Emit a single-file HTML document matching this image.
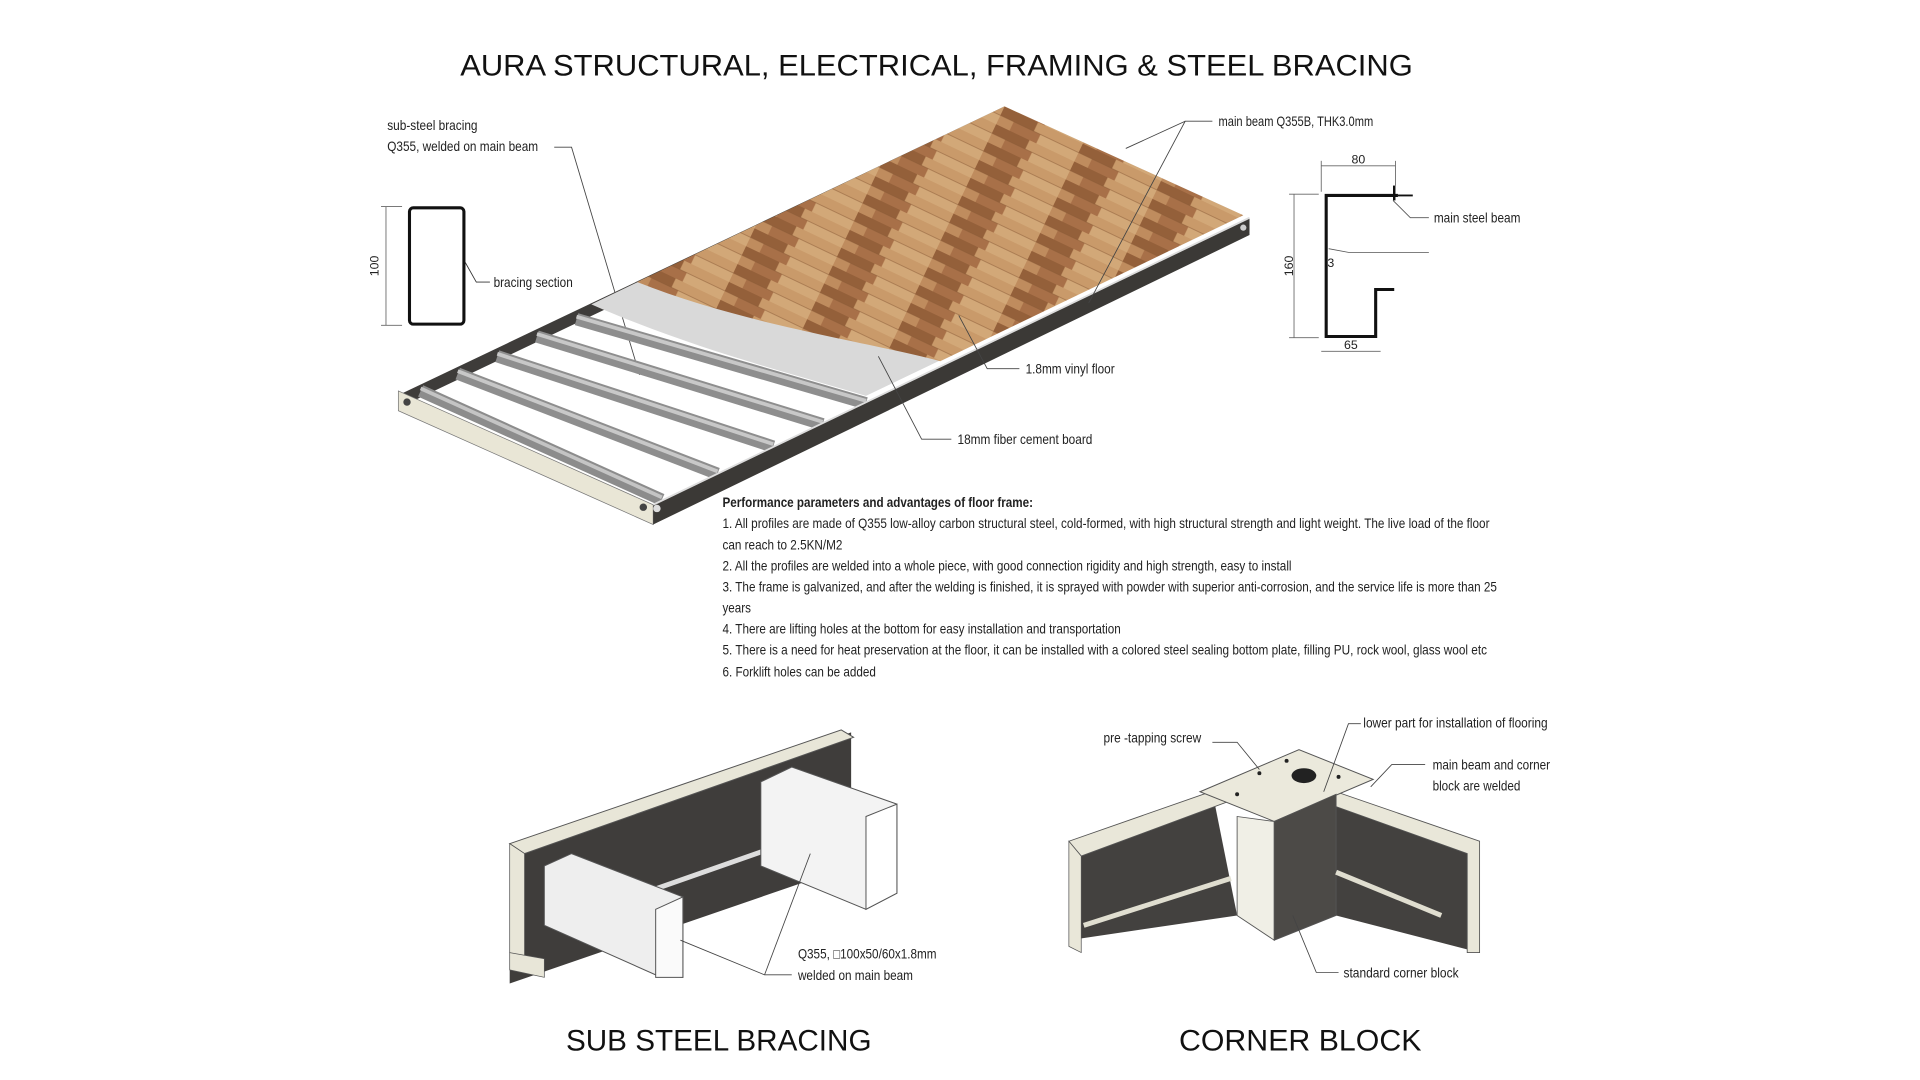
<!DOCTYPE html>
<html><head><meta charset="utf-8"><style>
html,body{margin:0;padding:0;background:#fff}
svg{display:block}
.t{font-family:"Liberation Sans Narrow","Liberation Sans",sans-serif;fill:#222}
.ti{font-family:"Liberation Sans",sans-serif;fill:#111}
</style></head><body>
<svg width="1920" height="1080" viewBox="0 0 1552 873" preserveAspectRatio="none" xmlns="http://www.w3.org/2000/svg">
<defs>
<pattern id="wood" width="70" height="16" patternUnits="userSpaceOnUse" patternTransform="rotate(25.5)">
<rect width="70" height="16" fill="#bf8c5e"/>
<rect x="0" y="0" width="30" height="8" fill="#94603a"/>
<rect x="30" y="0" width="40" height="8" fill="#c99a6a"/>
<rect x="12" y="8" width="24" height="8" fill="#a87048"/>
<rect x="36" y="8" width="34" height="8" fill="#d2a878"/>
<line x1="0" y1="8" x2="70" y2="8" stroke="#8a5a36" stroke-width="0.4"/>
</pattern>
</defs>
<rect width="1552" height="873" fill="#fff"/>
<text class="ti" x="757" y="61" font-size="24" text-anchor="middle" textLength="770" lengthAdjust="spacingAndGlyphs">AURA STRUCTURAL, ELECTRICAL, FRAMING &amp; STEEL BRACING</text>

<!-- bracing section -->
<rect x="331" y="168" width="44" height="94" rx="3" fill="none" stroke="#111" stroke-width="2.5"/>
<line x1="308" y1="167" x2="325" y2="167" stroke="#666" stroke-width="0.7"/>
<line x1="308" y1="263" x2="325" y2="263" stroke="#666" stroke-width="0.7"/>
<line x1="312" y1="167" x2="312" y2="263" stroke="#666" stroke-width="0.7"/>
<text class="t" x="306" y="215" font-size="10" transform="rotate(-90 306 215)" text-anchor="middle">100</text>
<polyline points="376,212 385,228 396,228" fill="none" stroke="#333" stroke-width="0.7"/>
<text class="t" x="399" y="232" font-size="11.5" textLength="64" lengthAdjust="spacingAndGlyphs">bracing section</text>
<text class="t" x="313" y="105" font-size="11.5" textLength="73" lengthAdjust="spacingAndGlyphs">sub-steel bracing</text>
<text class="t" x="313" y="122" font-size="11.5" textLength="122" lengthAdjust="spacingAndGlyphs">Q355, welded on main beam</text>
<polyline points="448,119 462,119 517,303" fill="none" stroke="#444" stroke-width="0.7"/>

<!-- main floor frame -->
<polygon points="325,318 812,86 812,96 330,326" fill="#3e3c3a"/>
<g stroke-linecap="butt">
<line x1="340" y1="316" x2="535" y2="404" stroke="#8c8c8c" stroke-width="10"/>
<line x1="340" y1="314" x2="535" y2="402" stroke="#c4c4c4" stroke-width="3"/>
<line x1="370" y1="302" x2="580" y2="383" stroke="#8e8e8e" stroke-width="10"/>
<line x1="370" y1="300" x2="580" y2="381" stroke="#c8c8c8" stroke-width="3"/>
<line x1="402" y1="288" x2="625" y2="361" stroke="#8e8e8e" stroke-width="10"/>
<line x1="402" y1="286" x2="625" y2="359" stroke="#c8c8c8" stroke-width="3"/>
<line x1="434" y1="272" x2="665" y2="343" stroke="#8e8e8e" stroke-width="10"/>
<line x1="434" y1="270" x2="665" y2="341" stroke="#c8c8c8" stroke-width="3"/>
<line x1="466" y1="258" x2="700" y2="326" stroke="#8e8e8e" stroke-width="10"/>
<line x1="466" y1="256" x2="700" y2="324" stroke="#c8c8c8" stroke-width="3"/>
</g>
<path d="M478,246 L812,86 L1005,174 L700,320 C640,302 560,282 478,246 Z" fill="#d9d9d9"/>
<path d="M515,228 L812,86 L1005,174 L760,292 C700,276 600,262 515,228 Z" fill="url(#wood)"/>
<polygon points="322,316 528,408 528,424 322,332" fill="#e9e6d6" stroke="#777" stroke-width="0.6"/>
<polygon points="528,408 1010,176 1010,190 528,424" fill="#3b3936"/>
<line x1="528" y1="408" x2="1010" y2="176" stroke="#ddd" stroke-width="1.5"/>
<circle cx="329" cy="325" r="3" fill="#444"/>
<circle cx="520" cy="410" r="3" fill="#444"/>
<circle cx="531" cy="411" r="3" fill="#ddd"/>
<circle cx="1005" cy="184" r="2.5" fill="#ccc"/>
<text class="t" x="985" y="102" font-size="11.5" textLength="125" lengthAdjust="spacingAndGlyphs">main beam Q355B, THK3.0mm</text>
<polyline points="980,98 958,98 880,245" fill="none" stroke="#444" stroke-width="0.7"/>
<line x1="958" y1="98" x2="910" y2="120" stroke="#444" stroke-width="0.7"/>
<text class="t" x="829" y="302" font-size="11.5" textLength="72" lengthAdjust="spacingAndGlyphs">1.8mm vinyl floor</text>
<polyline points="824,298 798,298 775,255" fill="none" stroke="#444" stroke-width="0.7"/>
<text class="t" x="774" y="359" font-size="11.5" textLength="109" lengthAdjust="spacingAndGlyphs">18mm fiber cement board</text>
<polyline points="769,355 745,355 710,288" fill="none" stroke="#444" stroke-width="0.7"/>

<!-- C section -->
<polyline points="1130,158 1072,158 1072,272 1112,272 1112,234 1127,234" fill="none" stroke="#111" stroke-width="2.5"/>
<line x1="1130" y1="158" x2="1142" y2="158" stroke="#111" stroke-width="1.5"/>
<line x1="1127" y1="150" x2="1127" y2="162" stroke="#111" stroke-width="2"/>
<line x1="1068" y1="134" x2="1128" y2="134" stroke="#666" stroke-width="0.7"/>
<line x1="1068" y1="130" x2="1068" y2="155" stroke="#666" stroke-width="0.7"/>
<line x1="1128" y1="130" x2="1128" y2="150" stroke="#666" stroke-width="0.7"/>
<text class="t" x="1098" y="132" font-size="10" text-anchor="middle">80</text>
<line x1="1046" y1="157" x2="1046" y2="273" stroke="#666" stroke-width="0.7"/>
<line x1="1042" y1="157" x2="1066" y2="157" stroke="#666" stroke-width="0.7"/>
<line x1="1042" y1="273" x2="1066" y2="273" stroke="#666" stroke-width="0.7"/>
<text class="t" x="1045" y="215" font-size="10" transform="rotate(-90 1045 215)" text-anchor="middle">160</text>
<line x1="1068" y1="284" x2="1116" y2="284" stroke="#666" stroke-width="0.7"/>
<text class="t" x="1092" y="282" font-size="10" text-anchor="middle">65</text>
<text class="t" x="1073" y="216" font-size="10">3</text>
<polyline points="1074,201 1090,204 1155,204" fill="none" stroke="#555" stroke-width="0.7"/>
<polyline points="1126,162 1140,176 1155,176" fill="none" stroke="#555" stroke-width="0.7"/>
<text class="t" x="1159" y="180" font-size="11.5" textLength="70" lengthAdjust="spacingAndGlyphs">main steel beam</text>

<!-- paragraph -->
<g class="t" font-size="11.5">
<text x="584" y="410" font-weight="bold" textLength="251" lengthAdjust="spacingAndGlyphs">Performance parameters and advantages of floor frame:</text>
<text x="584" y="427" textLength="620" lengthAdjust="spacingAndGlyphs">1. All profiles are made of Q355 low-alloy carbon structural steel, cold-formed, with high structural strength and light weight. The live load of the floor</text>
<text x="584" y="444" textLength="97" lengthAdjust="spacingAndGlyphs">can reach  to 2.5KN/M2</text>
<text x="584" y="461" textLength="460" lengthAdjust="spacingAndGlyphs">2. All the profiles are welded into a whole piece, with good connection rigidity and high strength, easy to install</text>
<text x="584" y="478" textLength="626" lengthAdjust="spacingAndGlyphs">3. The frame is galvanized, and after the welding is finished, it is sprayed with powder with superior anti-corrosion, and the service life is more than 25</text>
<text x="584" y="495" textLength="23" lengthAdjust="spacingAndGlyphs">years</text>
<text x="584" y="512" textLength="322" lengthAdjust="spacingAndGlyphs">4. There are lifting holes at the bottom for easy installation and transportation</text>
<text x="584" y="529" textLength="618" lengthAdjust="spacingAndGlyphs">5. There is a need for heat preservation at the floor,  it can be installed with a colored steel sealing bottom plate, filling PU, rock wool, glass wool etc</text>
<text x="584" y="547" textLength="124" lengthAdjust="spacingAndGlyphs">6. Forklift holes can be added</text>
</g>

<!-- SUB STEEL BRACING drawing -->
<polygon points="412,686 688,592 688,700 412,795" fill="#3f3d3b"/>
<polygon points="412,682 680,590 690,596 424,690" fill="#e8e6d8" stroke="#555" stroke-width="0.8"/>
<polygon points="412,682 424,690 424,778 412,770" fill="#e8e6d8" stroke="#555" stroke-width="0.6"/>
<polygon points="412,770 440,775 440,790 412,784" fill="#e8e6d8" stroke="#555" stroke-width="0.6"/>
<line x1="520" y1="722" x2="640" y2="680" stroke="#ddd" stroke-width="4"/>
<polygon points="615,632 640,620 725,650 725,722 700,735 615,700" fill="#f3f3f3" stroke="#555" stroke-width="0.8"/>
<polygon points="700,660 725,650 725,722 700,735" fill="#fff" stroke="#555" stroke-width="0.8"/>
<polygon points="440,700 462,690 552,725 552,790 530,788 440,748" fill="#eee" stroke="#555" stroke-width="0.8"/>
<polygon points="530,735 552,725 552,790 530,790" fill="#fafafa" stroke="#555" stroke-width="0.8"/>
<text class="t" x="645" y="775" font-size="11" textLength="112" lengthAdjust="spacingAndGlyphs">Q355, □100x50/60x1.8mm</text>
<text class="t" x="645" y="792" font-size="11.5" textLength="93" lengthAdjust="spacingAndGlyphs">welded on main beam</text>
<polyline points="640,788 618,788 550,760" fill="none" stroke="#444" stroke-width="0.7"/>
<line x1="618" y1="788" x2="655" y2="690" stroke="#444" stroke-width="0.7"/>
<text class="ti" x="581" y="849" font-size="24" text-anchor="middle" textLength="247" lengthAdjust="spacingAndGlyphs">SUB STEEL BRACING</text>

<!-- CORNER BLOCK drawing -->
<polygon points="864,680 980,640 1000,740 864,760" fill="#43413f"/>
<polygon points="1080,650 1196,685 1196,770 1080,740" fill="#43413f"/>
<polygon points="864,680 990,636 998,646 874,692" fill="#e9e7d9" stroke="#555" stroke-width="0.7"/>
<polygon points="864,680 874,692 874,770 864,765" fill="#e9e7d9" stroke="#555" stroke-width="0.6"/>
<polygon points="1080,640 1196,680 1196,770 1186,770 1186,690 1080,652" fill="#e9e7d9" stroke="#555" stroke-width="0.7"/>
<polygon points="970,640 1050,606 1110,630 1030,664" fill="#ebe9dc" stroke="#555" stroke-width="0.8"/>
<polygon points="1000,660 1030,664 1030,760 1000,740" fill="#f0efe6" stroke="#555" stroke-width="0.7"/>
<polygon points="1030,664 1080,642 1080,740 1030,760" fill="#4c4a47" stroke="#555" stroke-width="0.7"/>
<line x1="876" y1="748" x2="995" y2="710" stroke="#e0ded0" stroke-width="4"/>
<line x1="1080" y1="705" x2="1165" y2="740" stroke="#e0ded0" stroke-width="4"/>
<ellipse cx="1054" cy="627" rx="10" ry="6" fill="#222"/>
<circle cx="1018" cy="625" r="1.6" fill="#222"/><circle cx="1040" cy="615" r="1.6" fill="#222"/>
<circle cx="1082" cy="628" r="1.6" fill="#222"/><circle cx="1000" cy="642" r="1.6" fill="#222"/>
<text class="t" x="892" y="600" font-size="11.5" textLength="79" lengthAdjust="spacingAndGlyphs">pre -tapping screw</text>
<polyline points="980,600 1000,600 1018,622" fill="none" stroke="#444" stroke-width="0.7"/>
<text class="t" x="1102" y="588" font-size="11.5" textLength="149" lengthAdjust="spacingAndGlyphs">lower part for installation of flooring</text>
<polyline points="1100,585 1090,585 1070,640" fill="none" stroke="#444" stroke-width="0.7"/>
<text class="t" x="1158" y="622" font-size="11.5" textLength="95" lengthAdjust="spacingAndGlyphs">main beam and corner</text>
<text class="t" x="1158" y="639" font-size="11.5" textLength="71" lengthAdjust="spacingAndGlyphs">block are welded</text>
<polyline points="1152,618 1125,618 1108,636" fill="none" stroke="#444" stroke-width="0.7"/>
<text class="t" x="1086" y="790" font-size="11.5" textLength="93" lengthAdjust="spacingAndGlyphs">standard corner block</text>
<polyline points="1082,786 1064,786 1045,740" fill="none" stroke="#444" stroke-width="0.7"/>
<text class="ti" x="1051" y="849" font-size="24" text-anchor="middle" textLength="196" lengthAdjust="spacingAndGlyphs">CORNER BLOCK</text>
</svg>
</body></html>
